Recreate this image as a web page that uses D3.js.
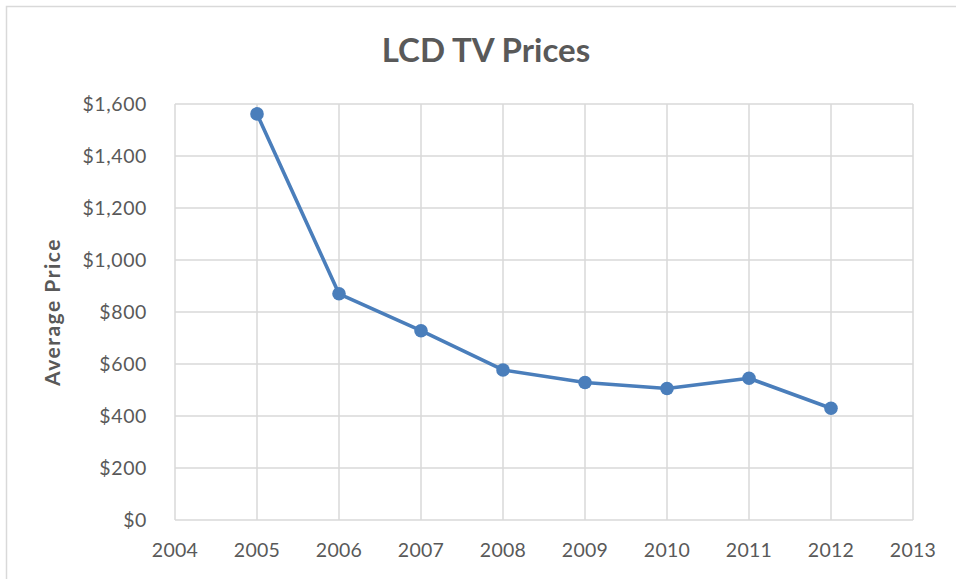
<!DOCTYPE html>
<html>
<head>
<meta charset="utf-8">
<script src="https://cdn.jsdelivr.net/npm/d3@7"></script>
<style>
  body { margin: 0; background: #fff; }
  svg text { font-family: Lato, "Open Sans", sans-serif; fill: #595959; }
</style>
</head>
<body>
<div id="chart"></div>
<script>
// values
const years = [2005, 2006, 2007, 2008, 2009, 2010, 2011, 2012];
const prices = [1562, 870, 728, 577, 529, 506, 545, 430];
const xTicks = [2004, 2005, 2006, 2007, 2008, 2009, 2010, 2011, 2012, 2013];
const yTicks = [0, 200, 400, 600, 800, 1000, 1200, 1400, 1600];

const width = 956, height = 579;
const margin = {top: 104, right: 43, bottom: 59, left: 175};

const svg = d3.select('#chart').append('svg')
    .attr('width', width)
    .attr('height', height);

// outer chart border
svg.append('rect')
    .attr('x', 6.5).attr('y', 6.5)
    .attr('width', width + 10).attr('height', height + 10)
    .attr('fill', 'none')
    .attr('stroke', '#d9d9d9')
    .attr('stroke-width', 1.5);

const x = d3.scaleLinear()
    .domain([2004, 2013])
    .range([margin.left, width - margin.right]);

const y = d3.scaleLinear()
    .domain([0, 1600])
    .range([height - margin.bottom, margin.top]);

// gridlines
svg.append('g')
    .selectAll('line.h')
    .data(yTicks)
    .join('line')
    .attr('x1', x(2004)).attr('x2', x(2013))
    .attr('y1', d => y(d)).attr('y2', d => y(d))
    .attr('stroke', '#d9d9d9')
    .attr('stroke-width', 1.5);

svg.append('g')
    .selectAll('line.v')
    .data(xTicks)
    .join('line')
    .attr('x1', d => x(d)).attr('x2', d => x(d))
    .attr('y1', y(0)).attr('y2', y(1600))
    .attr('stroke', '#d9d9d9')
    .attr('stroke-width', 1.5);

// tick labels
const fmt = d3.format('$,');
svg.append('g')
    .selectAll('text')
    .data(yTicks)
    .join('text')
    .attr('x', x(2004) - 28)
    .attr('y', d => y(d))
    .attr('dy', '0.35em')
    .attr('text-anchor', 'end')
    .attr('font-size', 19.5)
    .attr('letter-spacing', 0.6)
    .text(d => fmt(d));

svg.append('g')
    .selectAll('text')
    .data(xTicks)
    .join('text')
    .attr('x', d => x(d))
    .attr('y', y(0) + 37)
    .attr('text-anchor', 'middle')
    .attr('font-size', 19.5)
    .attr('letter-spacing', 0.3)
    .text(d => d);

// title and axis title
svg.append('text')
    .attr('x', 486)
    .attr('y', 62)
    .attr('text-anchor', 'middle')
    .attr('font-size', 33)
    .attr('font-weight', 'bold')
    .text('LCD TV Prices');

svg.append('text')
    .attr('transform', `translate(60,${y(800)}) rotate(-90)`)
    .attr('text-anchor', 'middle')
    .attr('font-size', 21)
    .attr('font-weight', 'bold')
    .attr('letter-spacing', 1.5)
    .text('Average Price');

// series
const data = years.map((yr, i) => ({year: yr, price: prices[i]}));

const line = d3.line()
    .x(d => x(d.year))
    .y(d => y(d.price));

svg.append('path')
    .datum(data)
    .attr('d', line)
    .attr('fill', 'none')
    .attr('stroke', '#4a7ebb')
    .attr('stroke-width', 3.6)
    .attr('stroke-linejoin', 'round');

svg.append('g')
    .selectAll('circle')
    .data(data)
    .join('circle')
    .attr('cx', d => x(d.year))
    .attr('cy', d => y(d.price))
    .attr('r', 6.8)
    .attr('fill', '#4a7ebb');
</script>
</body>
</html>
